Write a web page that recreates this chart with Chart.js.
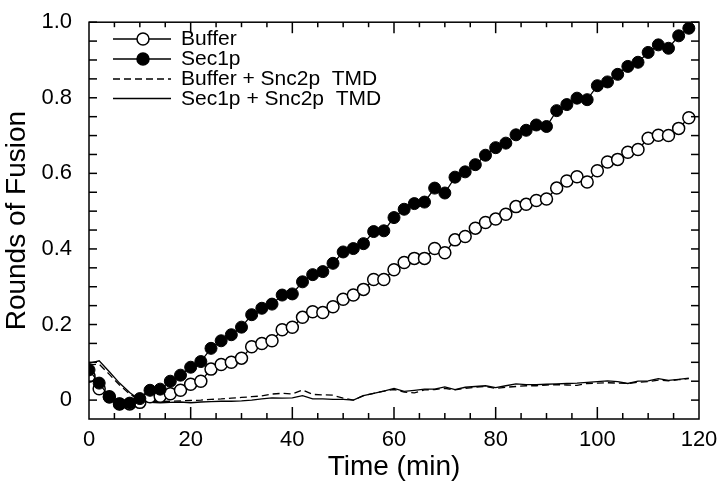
<!DOCTYPE html>
<html><head><meta charset="utf-8">
<script src="https://cdn.jsdelivr.net/npm/chart.js@4/dist/chart.umd.min.js"></script>
<style>html,body{margin:0;padding:0;background:#fff}</style>
</head><body>
<canvas id="c" width="720" height="484"></canvas>
<script>
const times = [0,2,4,6,8,10,12,14,16,18,20,22,24,26,28,30,32,34,36,38,40,42,44,46,48,50,52,54,56,58,
  60,62,64,66,68,70,72,74,76,78,80,82,84,86,88,90,92,94,96,98,100,102,104,106,108,110,112,114,116,118];
const buffer = [0.063,0.030,0.009,-0.010,-0.010,-0.006,0.009,0.010,0.017,0.026,
  0.042,0.050,0.082,0.094,0.100,0.111,0.141,0.150,0.157,0.186,
  0.193,0.219,0.234,0.232,0.247,0.267,0.278,0.293,0.319,0.319,
  0.345,0.364,0.375,0.375,0.401,0.390,0.424,0.433,0.455,0.470,
  0.479,0.492,0.512,0.518,0.528,0.532,0.561,0.580,0.591,0.577,
  0.607,0.630,0.637,0.656,0.663,0.693,0.701,0.700,0.719,0.747];
const sec1p = [0.080,0.045,0.008,-0.010,-0.008,0.004,0.026,0.029,0.050,0.066,
  0.087,0.102,0.137,0.157,0.173,0.193,0.226,0.243,0.254,0.278,
  0.281,0.313,0.332,0.340,0.362,0.392,0.401,0.414,0.446,0.448,
  0.483,0.505,0.520,0.524,0.561,0.548,0.590,0.604,0.623,0.648,
  0.668,0.680,0.702,0.714,0.728,0.724,0.766,0.782,0.799,0.795,
  0.832,0.842,0.862,0.883,0.894,0.920,0.940,0.931,0.964,0.984];
const bufferTMD = [0.093,0.095,0.068,0.040,0.016,0.000,-0.004,-0.004,-0.003,-0.002,
  -0.001,0.000,0.002,0.003,0.005,0.007,0.009,0.011,0.016,0.018,
  0.016,0.027,0.015,0.014,0.013,0.005,0.000,0.012,0.018,0.024,
  0.028,0.021,0.019,0.027,0.028,0.031,0.027,0.031,0.034,0.036,
  0.031,0.034,0.036,0.038,0.038,0.040,0.041,0.040,0.039,0.044,
  0.045,0.046,0.045,0.044,0.047,0.049,0.053,0.051,0.054,0.057];
const sec1pTMD = [0.097,0.104,0.075,0.045,0.020,0.000,-0.006,-0.007,-0.006,-0.005,
  -0.007,-0.005,-0.004,-0.003,-0.003,-0.002,0.000,0.003,0.006,0.005,
  0.006,0.012,0.003,0.003,0.002,0.002,0.000,0.012,0.018,0.024,
  0.031,0.023,0.026,0.029,0.029,0.035,0.028,0.034,0.036,0.038,
  0.033,0.038,0.043,0.041,0.041,0.042,0.043,0.044,0.045,0.047,
  0.049,0.051,0.049,0.044,0.050,0.051,0.057,0.052,0.055,0.058];
const seriesNames = ['Buffer','Sec1p','Buffer + Snc2p  TMD','Sec1p + Snc2p  TMD'];
const xTicks = [0,20,40,60,80,100,120];
const yTicks = [0,0.2,0.4,0.6,0.8,1.0];
const xTitle = 'Time (min)';
const yTitle = 'Rounds of Fusion';

const FONT = '"Liberation Sans", Arial, Helvetica, sans-serif';
const pts = arr => times.map((t,i)=>({x:t,y:arr[i]}));

const datasets = [
  {label:seriesNames[0], data:pts(buffer), borderColor:'#000', borderWidth:1.3,
   pointRadius:6, pointBackgroundColor:'#fff', pointBorderColor:'#000', pointBorderWidth:1.5, order:1},
  {label:seriesNames[1], data:pts(sec1p), borderColor:'#000', borderWidth:1.3,
   pointRadius:6, pointBackgroundColor:'#000', pointBorderColor:'#000', pointBorderWidth:1, order:0},
  {label:seriesNames[2], data:pts(bufferTMD), borderColor:'#000', borderWidth:1.3,
   borderDash:[7,4], pointRadius:0, order:2},
  {label:seriesNames[3], data:pts(sec1pTMD), borderColor:'#000', borderWidth:1.3,
   pointRadius:0, order:3}
];

const framePlugin = {
  id:'frame',
  afterDraw(chart){
    const {ctx, chartArea:a, scales:{x,y}} = chart;
    ctx.save();
    ctx.strokeStyle='#000';
    ctx.lineWidth=1.5;
    const seg=(x1,y1,x2,y2)=>{ctx.beginPath();ctx.moveTo(x1,y1);ctx.lineTo(x2,y2);ctx.stroke();};
    for(let k=0;k<=20;k++){
      const py=y.getPixelForValue(k*0.05);
      seg(a.left,py,a.left+8,py);
      seg(a.right,py,a.right-8,py);
    }
    for(let k=1;k<24;k++){
      const v=k*5, px=x.getPixelForValue(v);
      const major = v%20===0;
      seg(px,a.bottom,px,a.bottom-(major?12:6));
      seg(px,a.top,px,a.top+(major?11:5));
    }
    ctx.strokeRect(a.left,a.top,a.right-a.left,a.bottom-a.top);
    ctx.font='21px '+FONT;
    ctx.fillStyle='#000';
    ctx.textBaseline='middle';
    ctx.textAlign='left';
    const rows=[39,59,79,98.5];
    chart.data.datasets.forEach((ds,i)=>{
      const yy=rows[i];
      ctx.lineWidth=1.3;
      ctx.setLineDash(ds.borderDash||[]);
      seg(113,yy,171,yy);
      ctx.setLineDash([]);
      if(ds.pointRadius>0){
        ctx.beginPath();
        ctx.arc(143,yy,6,0,Math.PI*2);
        ctx.fillStyle=ds.pointBackgroundColor;
        ctx.fill();
        ctx.lineWidth=1.5;
        ctx.stroke();
      }
      ctx.fillStyle='#000';
      ctx.fillText(ds.label,181,yy+0.5);
    });
    ctx.restore();
  }
};

new Chart(document.getElementById('c'),{
  type:'line',
  data:{datasets},
  options:{
    responsive:false, animation:false,
    layout:{padding:{top:12,right:21,left:0,bottom:0}},
    plugins:{legend:{display:false},tooltip:{enabled:false}},
    scales:{
      x:{type:'linear',min:0,max:120,
        afterBuildTicks:s=>{s.ticks=xTicks.map(v=>({value:v}));},
        afterFit:s=>{s.height=65;},
        grid:{display:false},border:{display:false},
        ticks:{color:'#000',font:{family:FONT,size:22},padding:0,maxRotation:0},
        title:{display:true,text:xTitle,color:'#000',font:{family:FONT,size:28},padding:0}
      },
      y:{type:'linear',min:-0.05,max:1.0,
        afterBuildTicks:s=>{s.ticks=yTicks.map(v=>({value:v}));},
        afterFit:s=>{s.width=89;},
        grid:{display:false},border:{display:false},
        ticks:{color:'#000',font:{family:FONT,size:22},padding:9,
          callback:v=>Math.abs(v)<1e-9?'0':v.toFixed(1)},
        title:{display:true,text:yTitle,color:'#000',font:{family:FONT,size:28},padding:0}
      }
    }
  },
  plugins:[framePlugin]
});
</script>
</body></html>
